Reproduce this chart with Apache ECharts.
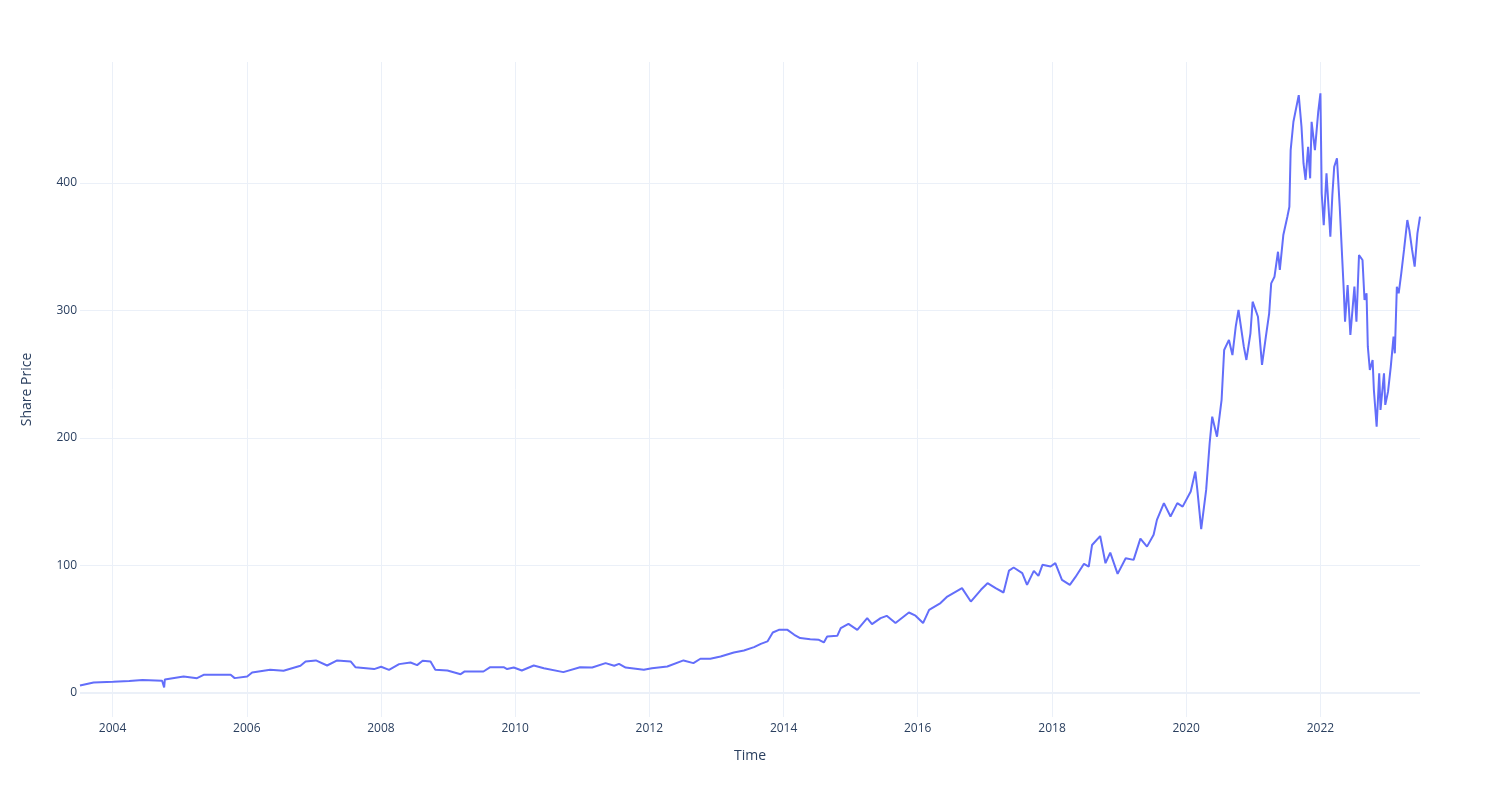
<!DOCTYPE html>
<html>
<head>
<meta charset="utf-8">
<script src="https://cdn.jsdelivr.net/npm/echarts@6/dist/echarts.min.js"></script>
<style>html,body{margin:0;padding:0;background:#fff}#c{width:1500px;height:800px}</style>
</head>
<body>
<div id="c"></div>
<script>
const dates = [
'2003-07-08','2003-09-20','2004-01-05','2004-04-01','2004-06-12','2004-09-27','2004-10-08','2004-10-12',
'2005-01-22','2005-04-05','2005-05-11','2005-10-05','2005-10-27','2006-01-03','2006-01-30','2006-05-08',
'2006-07-20','2006-10-20','2006-11-17','2007-01-12','2007-03-14','2007-05-08','2007-07-20','2007-08-15',
'2007-11-25','2008-01-02','2008-02-14','2008-04-09','2008-06-10','2008-07-16','2008-08-15','2008-09-27',
'2008-10-23','2008-12-28','2009-03-10','2009-04-01','2009-07-12','2009-08-18','2009-10-30','2009-11-18',
'2009-12-24','2010-02-06','2010-04-12','2010-06-06','2010-09-20','2010-12-20','2011-02-24','2011-05-08',
'2011-06-24','2011-07-20','2011-08-25','2011-12-02','2012-01-15','2012-04-08','2012-07-05','2012-08-28',
'2012-10-05','2012-11-28','2013-01-23','2013-04-05','2013-05-30','2013-07-24','2013-08-30','2013-10-05',
'2013-11-03','2013-12-06','2014-01-22','2014-02-28','2014-04-01','2014-05-26','2014-07-12','2014-08-08',
'2014-08-26','2014-10-20','2014-11-08','2014-12-20','2015-02-06','2015-04-01','2015-04-27','2015-06-13',
'2015-07-16','2015-09-02','2015-11-14','2015-12-20','2016-01-30','2016-03-03','2016-05-04','2016-06-10',
'2016-08-29','2016-10-16','2016-12-10','2017-01-15','2017-02-28','2017-04-12','2017-05-12','2017-06-06',
'2017-07-23','2017-08-18','2017-09-24','2017-10-19','2017-11-10','2017-12-24','2018-01-19','2018-02-24',
'2018-04-08','2018-05-08','2018-06-24','2018-07-20','2018-08-07','2018-09-20','2018-10-19','2018-11-14',
'2018-12-24','2019-02-06','2019-03-21','2019-04-27','2019-06-02','2019-07-08','2019-07-26','2019-09-02',
'2019-10-08','2019-11-14','2019-12-13','2020-01-26','2020-02-20','2020-03-02','2020-03-23','2020-04-19',
'2020-05-08','2020-05-22','2020-06-17','2020-07-12','2020-07-26','2020-08-21','2020-09-09','2020-09-27',
'2020-10-12','2020-11-10','2020-11-24','2020-12-16','2020-12-28','2021-01-26','2021-02-17','2021-03-10',
'2021-03-28','2021-04-08','2021-04-26','2021-05-15','2021-05-25','2021-06-13','2021-07-05','2021-07-16',
'2021-07-23','2021-08-07','2021-09-05','2021-09-20','2021-10-01','2021-10-12','2021-10-26','2021-11-06',
'2021-11-14','2021-12-02','2021-12-20','2022-01-01','2022-01-08','2022-01-19','2022-02-03','2022-02-24',
'2022-03-07','2022-03-17','2022-04-01','2022-04-16','2022-04-30','2022-05-08','2022-05-15','2022-05-29',
'2022-06-13','2022-07-05','2022-07-16','2022-07-30','2022-08-18','2022-08-29','2022-09-09','2022-09-16',
'2022-09-27','2022-10-12','2022-10-19','2022-11-03','2022-11-17','2022-11-24','2022-12-13','2022-12-20',
'2023-01-04','2023-01-19','2023-02-03','2023-02-10','2023-02-21','2023-03-03','2023-03-17','2023-04-01',
'2023-04-19','2023-04-30','2023-05-15','2023-05-29','2023-06-13','2023-06-27'
];
const prices = [
5.7,8.1,8.6,9.2,10.0,9.4,4.2,10.5,
12.8,11.5,14.1,14.1,11.5,12.8,16,18,
17.3,21.2,24.6,25.4,21.4,25.4,24.6,20.1,
18.6,20.4,18,22.5,23.8,21.7,25.1,24.6,
18,17.5,14.6,16.8,16.7,20.1,20.1,18.6,
19.8,17.5,21.4,19.3,16.2,20.1,19.8,23.3,
21.2,22.7,19.8,18,19.3,20.6,25.4,23.3,
26.7,26.7,28.5,31.6,33.2,35.8,38.4,40.3,
47.3,49.4,49.4,45.5,42.9,42.1,41.6,39.5,
44.2,44.7,50.7,54.1,49.4,58.6,53.9,58.6,
60.4,54.7,63,60.5,54.7,65.1,70.4,75.5,
82.1,71.6,80.8,86,82.1,78.7,95.9,98.3,
93.9,84.7,95.7,91.8,100.4,99.1,101.7,88.6,
84.7,90.7,101.2,99.1,116,123,101.7,110,
93.3,105.6,104.3,121,114.7,124,135.7,148.8,
138.3,148.8,146.1,157.9,173.6,159.2,128.4,159.2,
195.8,216.7,201,229.8,269,276.9,265,287.3,
300.4,271.6,261.2,282.1,306.9,295.1,257.3,279.5,
297.8,321.3,326.5,346.1,331.8,359.2,373.6,381.4,
425.9,448.1,469,444.2,415.4,402.4,428.5,403.7,
448,425.9,455.9,470.4,392,367,407.6,357.9,
390.6,412.8,419.4,381.4,339.6,316,291.2,320,
280.8,318.7,291.2,343.5,339.6,308.2,313.5,271.6,
253.3,261.2,237.6,208.9,250.7,222,250.7,225.9,
236.3,255.9,279.5,266.4,318.7,313.5,329.2,347.5,
371,363.1,347.5,334.4,360.5,373.6
];
const yTicks = [0, 100, 200, 300, 400];
const xTickYears = [2004, 2006, 2008, 2010, 2012, 2014, 2016, 2018, 2020, 2022];

function ts(s) { const p = s.split('-').map(Number); return Date.UTC(p[0], p[1] - 1, p[2]); }
const xTickValues = xTickYears.map(y => Date.UTC(y, 0, 1));
const seriesData = dates.map((d, i) => [ts(d), prices[i]]);
const font = '"Open Sans", verdana, arial, sans-serif';
const txt = '#2a3f5f';
const grid = '#EBF0F8';

const chart = echarts.init(document.getElementById('c'), null, {renderer: 'canvas'});
chart.setOption({
  animation: false,
  backgroundColor: '#fff',
  grid: {left: 80, right: 80, top: 62, bottom: 83, containLabel: false},
  xAxis: {
    type: 'value',
    min: ts(dates[0]),
    max: ts(dates[dates.length - 1]),
    name: 'Time',
    nameLocation: 'middle',
    nameGap: 32,
    nameTextStyle: {fontFamily: font, fontSize: 14, color: txt},
    axisLine: {show: false},
    axisTick: {show: false, customValues: xTickValues},
    axisLabel: {
      customValues: xTickValues,
      formatter: v => String(new Date(v).getUTCFullYear()),
      fontFamily: font, fontSize: 12, color: txt, margin: 6
    },
    splitLine: {show: true, lineStyle: {color: grid, width: 1}}
  },
  yAxis: {
    type: 'value',
    min: -19,
    max: 495,
    name: 'Share Price',
    nameLocation: 'middle',
    nameGap: 46,
    nameTextStyle: {fontFamily: font, fontSize: 14, color: txt},
    axisLine: {show: false},
    axisTick: {show: false, customValues: yTicks},
    axisLabel: {customValues: yTicks, fontFamily: font, fontSize: 12, color: txt, margin: 3},
    splitLine: {show: true, lineStyle: {color: grid, width: 1}}
  },
  series: [{
    type: 'line',
    data: seriesData,
    showSymbol: false,
    symbol: 'none',
    lineStyle: {color: '#636efa', width: 2},
    itemStyle: {color: '#636efa'},
    markLine: {
      silent: true,
      symbol: 'none',
      label: {show: false},
      lineStyle: {color: grid, width: 2, type: 'solid'},
      data: [{yAxis: 0}],
      z: 1
    }
  }]
});
</script>
</body>
</html>
